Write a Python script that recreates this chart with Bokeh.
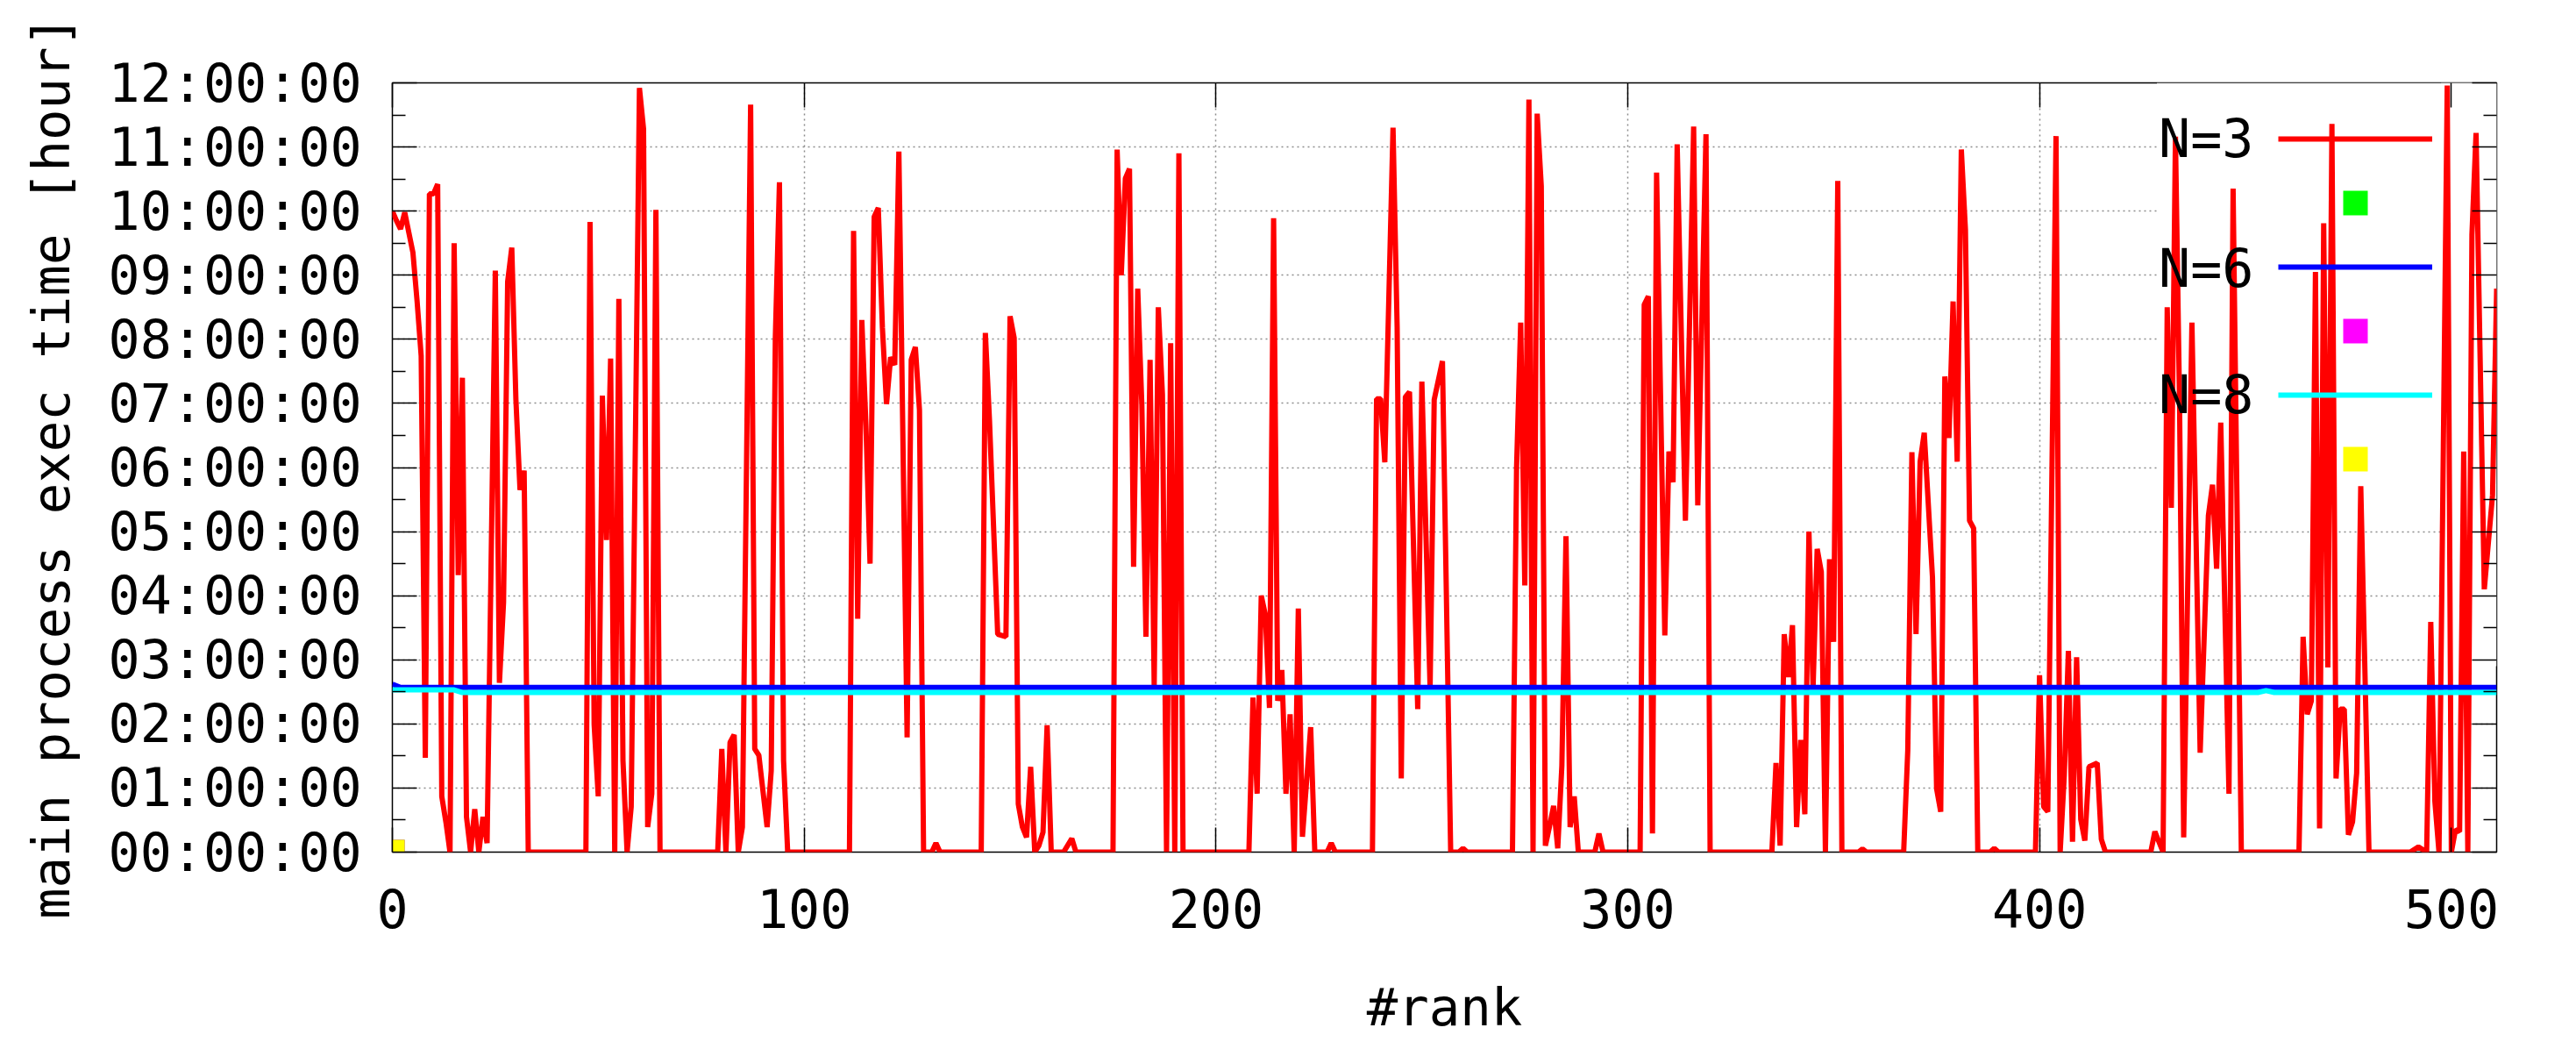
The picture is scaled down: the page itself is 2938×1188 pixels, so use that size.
from bokeh.plotting import figure
from bokeh.models import FixedTicker, LinearAxis, Legend, LegendItem, Range1d, Label, BoxAnnotation
from bokeh.core.properties import value
from bokeh.embed import file_html
from bokeh.resources import INLINE

# ---------------- data ----------------
# N=3 : main process exec time per rank (hours), vertices of the polyline
n3_rank = [
    0, 1, 2, 3, 5, 6, 7, 8, 9, 10, 11, 12, 13, 14, 15, 16, 17, 18, 19, 20, 21, 22, 23, 25, 26, 27, 28, 29,
    30, 31, 32, 33, 47, 48, 49, 50, 51, 52, 53, 54, 55, 56, 57, 58, 60, 61, 62, 63, 64, 65, 79, 80, 81, 82,
    83, 84, 85, 87, 88, 89, 91, 92, 93, 94, 95, 96,
    111, 112, 113, 114, 115, 116, 117, 118, 119, 120, 121, 122, 123, 125, 126, 127, 128, 129, 131, 132, 133,
    143, 144, 145, 147, 149, 150, 151, 152, 153, 154, 155, 156, 157, 158, 159, 160, 163, 165, 166,
    175, 176, 177, 178, 179, 180, 181, 182, 183, 184, 185, 186, 187, 188, 189, 190, 191, 192,
    208, 209, 210, 211, 212, 213, 214, 215, 216, 217, 218, 219, 220, 221, 223, 224, 227, 228, 229,
    238, 239, 240, 241, 243, 244, 245, 246, 247, 249, 250, 252, 253, 255, 257, 259, 260, 261,
    272, 273, 274, 275, 276, 277, 278, 279, 280, 281, 282, 283, 284, 285, 286, 287, 288, 292, 293, 294,
    303, 304, 305, 306, 307, 309, 310, 311, 312, 314, 316, 317, 319, 320,
    335, 336, 337, 338, 339, 340, 341, 342, 343, 344, 345, 346, 347, 348, 349, 350, 351, 352, 356, 357, 358,
    367, 368, 369, 370, 371, 372, 374, 375, 376, 377, 378, 379, 380, 381, 382, 383, 384, 385, 388, 389, 390,
    399, 400, 401, 402, 404, 405, 406, 407, 408, 409, 410, 411, 412, 414, 415, 416,
    427, 428, 430, 431, 432, 433, 434, 435, 437, 439, 441, 442, 443, 444, 446, 447, 449,
    463, 464, 465, 466, 467, 468, 469, 470, 471, 472, 473, 474, 475, 476, 477, 478, 480,
    490, 492, 494, 495, 496, 497, 499, 500, 501, 502, 503, 504, 505, 506, 508, 510, 511,
]
n3_hours = [
    10.00, 9.85, 9.72, 9.98, 9.35, 8.6, 7.74, 1.47, 10.27, 10.27, 10.42, 0.87, 0.47, 0, 9.5, 4.32, 7.4, 0.55,
    0, 0.67, 0, 0.55, 0.14, 9.07, 2.64, 3.9, 8.9, 9.43,
    7.06, 5.65, 5.95, 0, 0, 9.83, 1.99, 0.87, 7.12, 4.87, 7.7, 0, 8.63, 1.43, 0, 0.71, 11.92, 11.28, 0.39,
    0.91, 10.02, 0, 0, 1.61, 0, 1.71,
    1.83, 0, 0.39, 11.66, 1.61, 1.51, 0.39, 1.27, 8.02, 10.45, 1.43, 0,
    0, 9.69, 3.64, 8.3, 6.66, 4.5, 9.91, 10.05, 8.18, 6.99, 7.72, 7.6, 10.93, 1.79, 7.68, 7.88, 6.9, 0, 0, 0.14, 0,
    0, 8.1, 6.74, 3.4, 3.36, 8.36, 8.02, 0.75, 0.39, 0.23, 1.33, 0, 0.1, 0.31, 1.98, 0, 0, 0.21, 0,
    0, 10.96, 9.0, 10.51, 10.66, 4.45, 8.79, 6.98, 3.36, 7.68, 2.6, 8.5, 7.14, 0, 7.94, 0, 10.9, 0,
    0, 2.41, 0.91, 4.0, 3.7, 2.25, 9.89, 2.36, 2.84, 0.91, 2.15, 0, 3.8, 0.24, 1.95, 0, 0, 0.14, 0,
    0, 7.07, 7.07, 6.08, 11.3, 8.18, 1.15, 7.1, 7.18, 2.23, 7.34, 2.56, 7.06, 7.66, 0, 0, 0.06, 0,
    0, 6.0, 8.26, 4.16, 11.74, 0, 11.52, 10.39, 0.1, 0.4, 0.72, 0.06, 1.35, 4.93, 0.39, 0.87, 0, 0, 0.29, 0,
    0, 8.54, 8.67, 0.29, 10.6, 3.38, 6.25, 5.77, 11.04, 5.17, 11.32, 5.41, 11.2, 0,
    0, 1.39, 0.1, 3.4, 2.73, 3.54, 0.39, 1.75, 0.59, 5.0, 2.56, 4.73, 4.37, 0, 4.57, 3.28, 10.47, 0, 0, 0.05, 0,
    0, 1.59, 6.24, 3.4, 6.09, 6.54, 4.28, 0.99, 0.63, 7.42, 6.46, 8.59, 6.09, 10.96, 9.71, 5.17, 5.05, 0, 0, 0.06, 0,
    0, 2.76, 0.71, 0.63, 11.17, 0, 1.19, 3.14, 0.16, 3.04, 0.51, 0.18, 1.33, 1.39, 0.2, 0,
    0, 0.32, 0, 8.5, 5.37, 11.16, 6.98, 0.23, 8.26, 1.55, 5.25, 5.73, 4.42, 6.7, 0.91, 10.35, 0,
    0, 3.36, 2.15, 2.36, 9.05, 0.37, 9.81, 2.88, 11.36, 1.15, 2.23, 2.23, 0.27, 0.47, 1.23, 5.71, 0,
    0, 0.08, 0, 3.59, 0.79, 0, 11.96, 0, 0.35, 0.32, 6.25, 0, 9.63, 11.22, 4.1, 5.57, 8.79,
]

# N=6 and N=8 : nearly constant exec times (hours)
n6_rank = [0, 2, 511]
n6_hours = [2.62, 2.57, 2.57]
n8_rank = [0, 15, 17, 453, 455, 457, 511]
n8_hours = [2.53, 2.53, 2.49, 2.49, 2.52, 2.49, 2.49]

# point series (untitled key entries)
pts_green_x, pts_green_y = [0], [0]
pts_magenta_x, pts_magenta_y = [0], [0]
pts_yellow_x, pts_yellow_y = [0], [0]

x_ticks = [0, 100, 200, 300, 400, 500]
y_ticks = [0, 1, 2, 3, 4, 5, 6, 7, 8, 9, 10, 11, 12]
y_minor = [0.5, 1.5, 2.5, 3.5, 4.5, 5.5, 6.5, 7.5, 8.5, 9.5, 10.5, 11.5]
y_tick_labels = ["00:00:00", "01:00:00", "02:00:00", "03:00:00", "04:00:00", "05:00:00", "06:00:00",
                 "07:00:00", "08:00:00", "09:00:00", "10:00:00", "11:00:00", "12:00:00"]
x_title = "#rank"
y_title = "main process exec time [hour]"
series_labels = ["N=3", "N=6", "N=8"]

# ---------------- figure ----------------
FONT = "DejaVu Sans Mono"
TICK_FS = "60px"
TITLE_FS = "59px"

p = figure(width=2938, height=1188, output_backend="svg", toolbar_location=None,
           x_range=Range1d(0, 511), y_range=Range1d(0, 12),
           min_border_left=447, min_border_right=91, min_border_top=94, min_border_bottom=217)
p.background_fill_color = "white"
p.border_fill_color = "white"
p.outline_line_color = "black"
p.outline_line_width = 1.5

xa = p.xaxis[0]
ya = p.yaxis[0]
xa.ticker = FixedTicker(ticks=x_ticks, minor_ticks=[])
ya.ticker = FixedTicker(ticks=y_ticks, minor_ticks=y_minor)
ya.major_label_overrides = {t: l for t, l in zip(y_ticks, y_tick_labels)}
xa.axis_label = x_title
ya.axis_label = y_title

top = LinearAxis(ticker=FixedTicker(ticks=x_ticks, minor_ticks=[]),
                 major_label_text_color=None, major_label_text_font_size="8px")
right = LinearAxis(ticker=FixedTicker(ticks=y_ticks, minor_ticks=y_minor),
                   major_label_text_color=None, major_label_text_font_size="8px")
p.add_layout(top, "above")
p.add_layout(right, "right")

for ax in (xa, ya, top, right):
    ax.axis_line_color = None
    ax.major_tick_in = 28
    ax.major_tick_out = 0
    ax.minor_tick_in = 15
    ax.minor_tick_out = 0
    ax.major_tick_line_color = "black"
    ax.minor_tick_line_color = "black"
    ax.major_tick_line_width = 1.5
    ax.minor_tick_line_width = 1.5
for ax in (xa, ya):
    ax.major_label_text_font = FONT
    ax.major_label_text_font_size = TICK_FS
    ax.major_label_text_color = "black"
    ax.axis_label_text_font = FONT
    ax.axis_label_text_font_size = TITLE_FS
    ax.axis_label_text_font_style = "normal"
    ax.axis_label_text_color = "black"
xa.major_label_standoff = 41
xa.axis_label_standoff = 53
ya.major_label_standoff = 35
ya.axis_label_standoff = 28
top.major_label_standoff = 0
right.major_label_standoff = 0

# grid
p.xgrid.ticker = FixedTicker(ticks=x_ticks)
p.ygrid.ticker = FixedTicker(ticks=y_ticks)
for g in (p.xgrid, p.ygrid):
    g.grid_line_color = "#8c8c8c"
    g.grid_line_dash = "2 4"
    g.grid_line_width = 1.5

# opaque key area hides the grid behind the key (data lines still drawn over it)
p.add_layout(BoxAnnotation(left=428.5, right=511, bottom=5.5, top=12, level="underlay",
                           fill_color="white", fill_alpha=1, line_color=None))
p.add_layout(BoxAnnotation(left=497.5, right=511, bottom=2.9, top=12, level="underlay",
                           fill_color="white", fill_alpha=1, line_color=None))

# ---------------- series ----------------
LW = 6
r3 = p.line(n3_rank, n3_hours, line_color="#ff0000", line_width=LW, line_join="bevel")
pg = p.scatter(pts_green_x, pts_green_y, marker="square", size=28, fill_color="#00ff00", line_color=None)
r6 = p.line(n6_rank, n6_hours, line_color="#0000ff", line_width=LW)
pm = p.scatter(pts_magenta_x, pts_magenta_y, marker="square", size=28, fill_color="#ff00ff", line_color=None)
r8 = p.line(n8_rank, n8_hours, line_color="#00ffff", line_width=LW)
py = p.scatter(pts_yellow_x, pts_yellow_y, marker="square", size=28, fill_color="#ffff00", line_color=None)

# key: samples from the library legend, titles placed to their left (gnuplot style)
legend = Legend(items=[
    LegendItem(label=value(""), renderers=[r3]),
    LegendItem(label=value(""), renderers=[pg]),
    LegendItem(label=value(""), renderers=[r6]),
    LegendItem(label=value(""), renderers=[pm]),
    LegendItem(label=value(""), renderers=[r8]),
    LegendItem(label=value(""), renderers=[py]),
], location=(2151, 413), orientation="vertical",
    glyph_width=176, glyph_height=70, spacing=3, padding=0, margin=0, label_standoff=0,
    label_text_font_size="1px", border_line_color=None, background_fill_alpha=0)
p.add_layout(legend)

key_x = 452.0
key_y = [11.125, 9.11, 7.13]
for txt, ky in zip(series_labels, key_y):
    p.add_layout(Label(x=key_x, y=ky, text=txt, text_align="right", text_baseline="middle",
                       text_font=FONT, text_font_size="60px", text_color="black"))

open("out.html", "w").write(file_html(p, INLINE))
